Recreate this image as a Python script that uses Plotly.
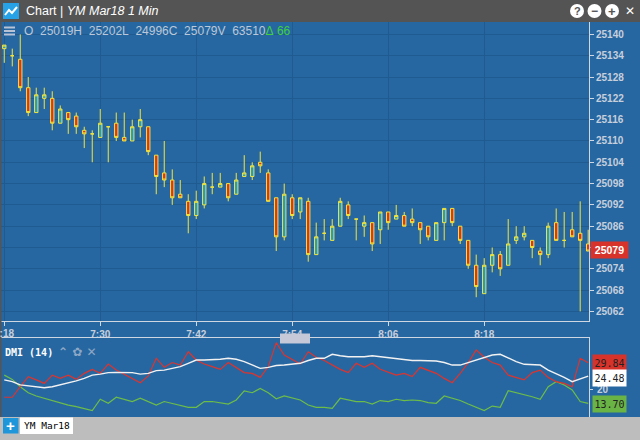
import pandas as pd
import plotly.graph_objects as go

# one-minute bars, YM Mar18, 7:18 .. 8:31
times = pd.date_range("2018-03-01 07:18", periods=74, freq="min")

opens = [25136, 25134, 25133, 25125, 25118, 25122, 25122, 25115, 25118, 25117,
         25113, 25112, 25111, 25114, 25115, 25111, 25110, 25114, 25114, 25106,
         25101, 25099, 25095, 25093, 25089, 25092, 25097, 25097, 25098, 25095,
         25100, 25100, 25104, 25101, 25094, 25083, 25094, 25090, 25093, 25078,
         25084, 25082, 25086, 25092, 25088, 25086, 25087, 25085, 25090, 25088,
         25089, 25088, 25087, 25086, 25082, 25087, 25091, 25086, 25082, 25075,
         25067, 25075, 25078, 25075, 25082, 25083, 25082, 25079, 25078, 25087,
         25082, 25085, 25084, 25081]
highs = [25137, 25136, 25140, 25128, 25125, 25125, 25124, 25120, 25118, 25118,
         25114, 25113, 25119, 25114, 25118, 25118, 25116, 25119, 25114, 25106,
         25110, 25102, 25099, 25095, 25096, 25100, 25101, 25101, 25098, 25101,
         25106, 25104, 25107, 25102, 25094, 25098, 25095, 25094, 25094, 25087,
         25088, 25088, 25094, 25093, 25088, 25089, 25087, 25090, 25090, 25092,
         25090, 25091, 25087, 25086, 25087, 25091, 25091, 25086, 25082, 25078,
         25077, 25080, 25079, 25088, 25086, 25086, 25082, 25080, 25087, 25091,
         25090, 25090, 25093, 25085]
lows = [25132, 25131, 25124, 25117, 25118, 25119, 25113, 25115, 25112, 25112,
        25108, 25104, 25111, 25104, 25110, 25110, 25110, 25111, 25106, 25095,
        25097, 25092, 25094, 25084, 25088, 25091, 25095, 25097, 25093, 25095,
        25100, 25099, 25101, 25093, 25079, 25082, 25088, 25088, 25076, 25078,
        25082, 25082, 25086, 25088, 25082, 25083, 25079, 25081, 25085, 25088,
        25086, 25086, 25081, 25082, 25082, 25082, 25086, 25081, 25074, 25066,
        25067, 25073, 25072, 25075, 25081, 25082, 25077, 25075, 25077, 25082,
        25080, 25083, 25062, 25079]
closes = [25137, 25134, 25125, 25118, 25123, 25123, 25115, 25119, 25116, 25114,
          25112, 25112, 25115, 25114, 25111, 25110, 25114, 25116, 25107, 25100,
          25099, 25094, 25094, 25089, 25093, 25098, 25097, 25098, 25094, 25099,
          25101, 25103, 25103, 25093, 25083, 25095, 25089, 25094, 25078, 25083,
          25084, 25086, 25093, 25089, 25088, 25087, 25081, 25090, 25087, 25089,
          25086, 25087, 25085, 25083, 25087, 25091, 25087, 25082, 25075, 25069,
          25075, 25078, 25074, 25081, 25083, 25084, 25080, 25078, 25086, 25082,
          25082, 25083, 25082, 25079]

# DMI (14)
di_minus = [16.1, 16.1, 20.3, 24.3, 23.0, 21.6, 24.9, 23.6, 24.9, 23.2,
            25.6, 27.2, 25.6, 29.3, 26.9, 25.3, 23.6, 21.9, 24.6, 31.6,
            28.0, 29.9, 28.9, 34.2, 30.9, 29.3, 28.3, 27.2, 29.9, 28.0,
            25.9, 25.6, 24.0, 28.3, 37.8, 32.9, 31.2, 29.3, 34.2, 32.0,
            30.7, 28.9, 27.2, 25.9, 29.6, 28.0, 29.6, 27.2, 25.9, 24.9,
            25.6, 24.3, 28.0, 26.9, 25.6, 23.6, 21.9, 25.6, 29.9, 34.9,
            32.0, 29.9, 28.9, 24.9, 24.0, 23.0, 25.9, 26.9, 24.0, 22.3,
            21.6, 20.3, 31.6, 29.84]
adx = [23.0, 22.3, 21.0, 20.6, 20.3, 19.9, 20.3, 21.0, 21.6, 22.6,
       23.6, 24.9, 25.3, 25.9, 26.0, 26.0, 25.9, 25.3, 25.6, 26.7,
       26.9, 27.6, 28.3, 29.6, 30.9, 30.9, 30.9, 31.2, 31.6, 31.2,
       30.3, 28.9, 27.6, 28.0, 28.7, 28.9, 29.2, 29.6, 30.7, 31.6,
       31.6, 33.2, 32.6, 32.2, 32.2, 32.2, 32.6, 32.2, 31.8, 31.3,
       30.9, 30.7, 30.7, 30.7, 30.5, 29.9, 28.9, 28.9, 29.9, 31.2,
       32.2, 32.9, 33.2, 31.6, 30.3, 29.2, 28.9, 28.9, 26.9, 25.6,
       24.0, 22.3, 23.4, 24.48]
di_plus = [24.9, 23.2, 20.3, 17.9, 16.6, 15.7, 14.6, 13.7, 13.0, 12.4,
           11.7, 10.8, 15.3, 13.7, 16.1, 15.3, 14.4, 15.7, 14.4, 13.0,
           14.4, 13.7, 13.0, 12.1, 12.1, 14.4, 14.4, 14.0, 13.4, 15.0,
           18.6, 17.9, 19.6, 17.9, 15.5, 16.6, 15.8, 15.0, 13.0, 12.1,
           12.1, 11.7, 15.7, 15.0, 14.4, 14.4, 13.4, 14.8, 14.4, 15.3,
           14.8, 15.0, 14.8, 14.0, 13.7, 16.6, 15.7, 14.8, 13.4, 12.1,
           10.8, 12.6, 12.1, 18.7, 17.9, 17.4, 16.3, 15.3, 20.3, 22.3,
           21.0, 19.0, 14.4, 13.70]

price_ticks = list(range(25062, 25141, 6))
time_labels = ["7:18", "7:30", "7:42", "7:54", "8:06", "8:18"]
header = "O\u00a0\u00a025019H\u00a0\u00a025202L\u00a0\u00a024996C\u00a0\u00a025079V\u00a0\u00a063510"

BG = "#2767a1"
GRID = "#1f5a91"
AXIS = "#cfd7e3"
TICK = "#c6cfdc"
YEL = "#f3e43c"


# pixel -> paper helpers (plot area is x 0..589, y 22..417)
def fx(px):
    return px / 589.0


def fy(py):
    return (417.0 - py) / 395.0


def label(x, y, text, size, color, family="Liberation Sans, Arial", xanchor="center", **kw):
    return dict(xref="paper", yref="paper", x=fx(x), y=fy(y), text=text, showarrow=False,
                xanchor=xanchor, yanchor="middle",
                font=dict(family=family, size=size, color=color), **kw)


fig = go.Figure()

fig.add_trace(go.Candlestick(
    x=times, open=opens, high=highs, low=lows, close=closes,
    increasing=dict(fillcolor="#1c9bd9", line=dict(color=YEL, width=1)),
    decreasing=dict(fillcolor="#d7372b", line=dict(color=YEL, width=1)),
    whiskerwidth=0, showlegend=False, hoverinfo="skip",
    xaxis="x", yaxis="y"))

fig.add_trace(go.Scatter(x=times, y=di_plus, mode="lines", line=dict(color="#6cbd48", width=1.2),
                         showlegend=False, xaxis="x2", yaxis="y2", hoverinfo="skip"))
fig.add_trace(go.Scatter(x=times, y=di_minus, mode="lines", line=dict(color="#e0332c", width=1.2),
                         showlegend=False, xaxis="x2", yaxis="y2", hoverinfo="skip"))
fig.add_trace(go.Scatter(x=times, y=adx, mode="lines", line=dict(color="#f2f2f2", width=1.4),
                         showlegend=False, xaxis="x2", yaxis="y2", hoverinfo="skip"))

xr = [times[0] - pd.Timedelta(seconds=32), times[0] + pd.Timedelta(seconds=73.1 * 60)]


def rect(x0, x1, y0, y1, color, **kw):
    return dict(type="rect", xref="paper", yref="paper", x0=fx(x0), x1=fx(x1), y0=fy(y1), y1=fy(y0),
                fillcolor=color, line_width=0, **kw)


def hline(x0, x1, y, color, width):
    return dict(type="line", xref="paper", yref="paper", x0=fx(x0), x1=fx(x1), y0=fy(y), y1=fy(y),
                line=dict(color=color, width=width))


shapes = [
    rect(0, 640, 0, 22, "#545454"),          # title bar
    rect(0, 640, 417, 440, "#bdbdbd"),       # tab bar
    rect(0, 1.5, 22, 417, "#555555"),
    rect(3, 19, 3, 19, "#27a2e6"),           # app icon
    dict(type="path", xref="paper", yref="paper",
         path="M %f,%f L %f,%f L %f,%f L %f,%f" % (fx(5), fy(15), fx(9), fy(10), fx(12), fy(13), fx(17), fy(7)),
         line=dict(color="white", width=2)),
    dict(type="circle", xref="paper", yref="paper", x0=fx(570), x1=fx(584), y0=fy(18), y1=fy(4),
         fillcolor="white", line_width=0),
    dict(type="circle", xref="paper", yref="paper", x0=fx(587.5), x1=fx(601.5), y0=fy(18), y1=fy(4),
         fillcolor="white", line_width=0),
    dict(type="circle", xref="paper", yref="paper", x0=fx(605), x1=fx(619), y0=fy(18), y1=fy(4),
         fillcolor="white", line_width=0),
    hline(4, 15, 27.5, "#b7c3d4", 2),        # menu icon
    hline(4, 15, 31, "#b7c3d4", 2),
    hline(4, 15, 34.5, "#b7c3d4", 2),
    rect(280, 310, 333.5, 343.5, "#c6c9d7"),  # panel splitter handle
    rect(3, 18.5, 418, 433.5, "#1f95da"),    # add tab button
    rect(20, 73, 417.5, 434, "white"),       # symbol tab
    hline(589, 593, 389.5, AXIS, 1),
]

annotations = [
    label(24, 11, "Chart | <i>YM Mar18 1 Min</i>", 12.5, "white", xanchor="left"),
    label(577, 11, "<b>?</b>", 11, "#545454"),
    label(594.5, 11, "<b>\u2212</b>", 12, "#545454"),
    label(612, 11, "<b>+</b>", 13, "#545454"),
    label(630, 11, "<b>\u2715</b>", 12, "white", family="DejaVu Sans"),
    label(22, 30.5, header + "<span style='color:#3fcf3f'>\u0394\u00a066</span>", 12, "#bcc7d7",
          xanchor="left"),
    label(3, 352, "<b>DMI (14)</b>", 10, "white", family="DejaVu Sans Mono", xanchor="left"),
    label(56, 352, "<b>\u2303 \u273f \u2715</b>", 12, "#8ea7c6", family="DejaVu Sans", xanchor="left"),
    label(10.75, 425.5, "<b>+</b>", 15, "white"),
    label(46.5, 426, "YM Mar18", 9.5, "black", family="DejaVu Sans Mono"),
    label(595, 389.5, "<b>20</b>", 10, TICK, xanchor="left"),
    # first time label, cut by the left edge as in the app
    dict(xref="x", yref="paper", x=times[0], y=fy(333), xanchor="center", yanchor="middle",
         text="<b>%s</b>" % time_labels[0], showarrow=False,
         font=dict(family="Liberation Sans, Arial", size=10, color=TICK)),
    # last price
    dict(xref="paper", yref="y", x=fx(590), y=closes[-1], xanchor="left", yanchor="middle",
         text="<b>%d</b>" % closes[-1], showarrow=False, bgcolor="#d8332b", width=33, height=12,
         borderpad=2, font=dict(family="Liberation Sans, Arial", size=10.5, color="white"), yshift=1.5),
    # last DMI values
    dict(xref="paper", yref="y2", x=fx(592), y=di_minus[-1], xanchor="left", yanchor="middle",
         text="%.2f" % di_minus[-1], showarrow=False, bgcolor="#d8332b", width=30, height=13,
         borderpad=1.5, font=dict(family="DejaVu Sans Mono", size=10, color="#222222")),
    dict(xref="paper", yref="y2", x=fx(592), y=adx[-1], xanchor="left", yanchor="middle",
         text="%.2f" % adx[-1], showarrow=False, bgcolor="white", width=30, height=13,
         borderpad=1.5, yshift=-1.5, font=dict(family="DejaVu Sans Mono", size=10, color="#222222")),
    dict(xref="paper", yref="y2", x=fx(592), y=di_plus[-1], xanchor="left", yanchor="middle",
         text="%.2f" % di_plus[-1], showarrow=False, bgcolor="#6ab445", width=30, height=13,
         borderpad=1.5, yshift=-0.5, font=dict(family="DejaVu Sans Mono", size=10, color="#222222")),
]

tickfont = dict(family="Liberation Sans, Arial", size=10, color=TICK, weight="bold")

fig.update_layout(
    width=640, height=440,
    margin=dict(l=0, r=51, t=22, b=23),
    paper_bgcolor=BG, plot_bgcolor=BG,
    boxgap=0.4,
    shapes=shapes, annotations=annotations,
    xaxis=dict(domain=[0, 1], anchor="y", range=xr, rangeslider=dict(visible=False),
               tickvals=list(times[0:61:12]), ticktext=[""] + time_labels[1:],
               showgrid=True, gridcolor=GRID, gridwidth=1, zeroline=False,
               showline=True, linecolor=AXIS, linewidth=1,
               ticks="outside", ticklen=4, tickcolor=AXIS, tickfont=tickfont),
    yaxis=dict(domain=[fy(321), 1], anchor="x", side="right", range=[25059.3, 25143.5],
               tickvals=price_ticks,
               ticktext=["" if t == 25080 else str(t) for t in price_ticks],
               showgrid=True, gridcolor=GRID, gridwidth=1, zeroline=False,
               showline=True, linecolor=AXIS, linewidth=1,
               ticks="outside", ticklen=4, tickcolor=AXIS, tickfont=tickfont),
    xaxis2=dict(domain=[0, 1], anchor="y2", matches="x", side="top", showticklabels=False,
                showgrid=False, zeroline=False, showline=True, linecolor=AXIS, linewidth=1, ticks=""),
    yaxis2=dict(domain=[0, fy(338)], anchor="x2", side="right", range=[8.25, 39.66],
                showticklabels=False, showgrid=False, zeroline=False,
                showline=True, linecolor=AXIS, linewidth=1, ticks=""),
)

fig.write_html("out.html", config={"displayModeBar": False},
               post_script="document.body.style.margin='0';")
